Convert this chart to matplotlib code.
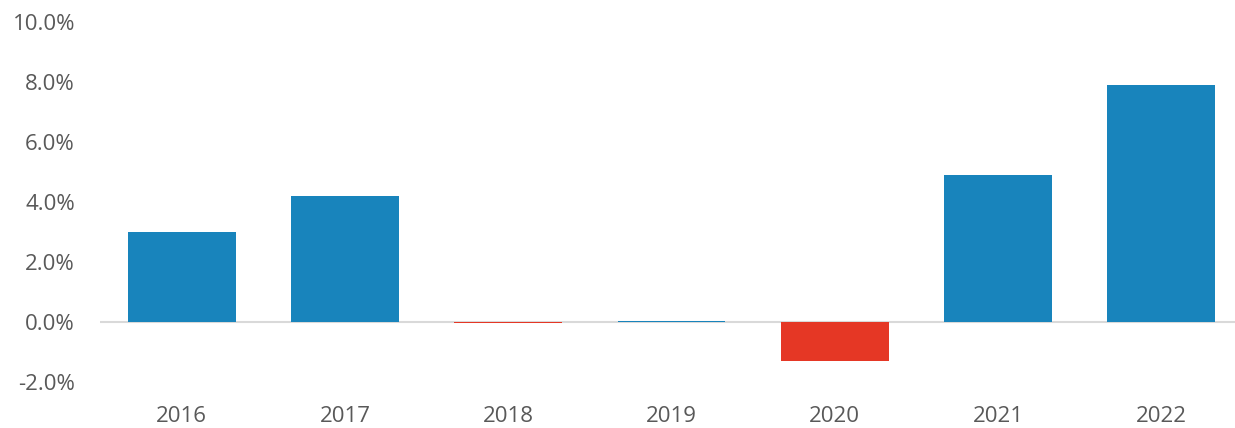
import matplotlib.pyplot as plt
from matplotlib.ticker import FuncFormatter

years = ['2016', '2017', '2018', '2019', '2020', '2021', '2022']
growth = [3.0, 4.2, -0.02, 0.04, -1.3, 4.9, 7.9]

blue = '#1884BC'
red = '#E53725'
colors = [blue if v >= 0 else red for v in growth]

plt.rcParams['font.family'] = ['Open Sans', 'DejaVu Sans']

fig = plt.figure(figsize=(12.35, 4.28), dpi=100)
# plot area runs a little past the right edge, like the original
ax = fig.add_axes([100 / 1235, 46 / 428, 1143 / 1235, 360 / 428])

x = range(len(years))
ax.bar(x, growth, width=0.66, color=colors, zorder=3)
ax.axhline(0, color='#d9d9d9', linewidth=1.5, zorder=2)

ax.set_xlim(-0.5, len(years) - 0.5)
ax.set_ylim(-2, 10)
ax.set_yticks([-2, 0, 2, 4, 6, 8, 10])
ax.yaxis.set_major_formatter(FuncFormatter(lambda v, p: '%.1f%%' % v))
ax.set_xticks(list(x))
ax.set_xticklabels(years)

for s in ax.spines.values():
    s.set_visible(False)
ax.tick_params(axis='both', length=0, labelsize=16, labelcolor='#595959')
ax.tick_params(axis='y', pad=18)
ax.tick_params(axis='x', pad=17)

fig.savefig('out.png', dpi=100)
